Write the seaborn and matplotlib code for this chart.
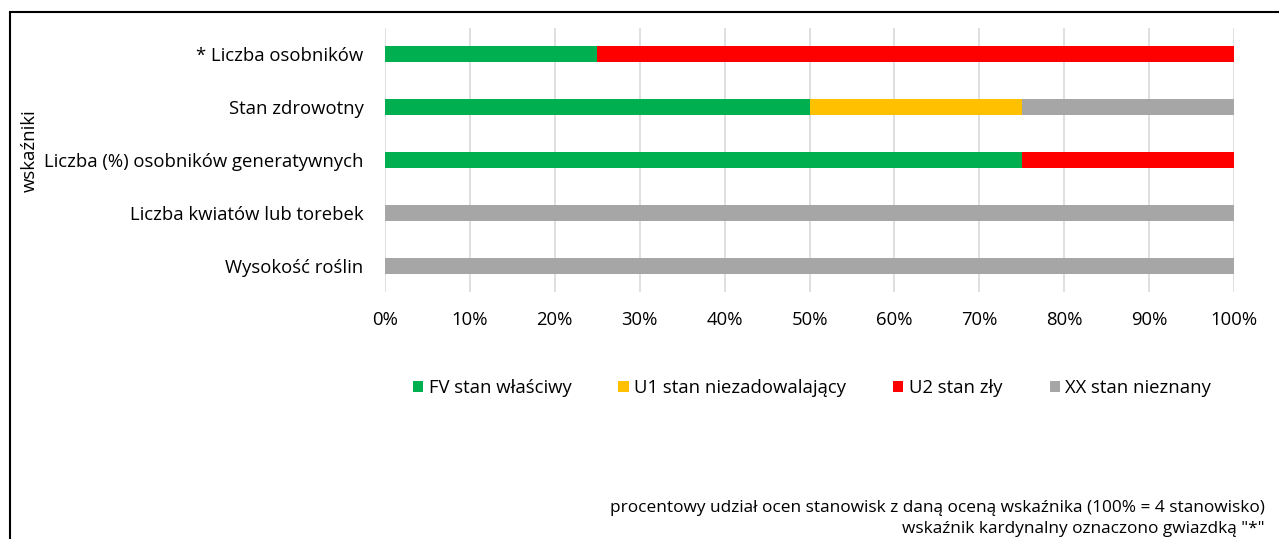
import matplotlib
matplotlib.use("Agg")
import matplotlib.pyplot as plt
import seaborn as sns
import pandas as pd
import numpy as np
from matplotlib.patches import Rectangle
from matplotlib.ticker import FuncFormatter

categories = ["* Liczba osobników", "Stan zdrowotny", "Liczba (%) osobników generatywnych",
              "Liczba kwiatów lub torebek", "Wysokość roślin"]
fv = [25, 50, 75, 0, 0]
u1 = [0, 25, 0, 0, 0]
u2 = [75, 0, 25, 0, 0]
xx = [0, 25, 0, 100, 100]
series_names = ["FV stan właściwy", "U1 stan niezadowalający", "U2 stan zły", "XX stan nieznany"]
colors = ["#00B050", "#FFC000", "#FF0000", "#A6A6A6"]
xticks = [0, 10, 20, 30, 40, 50, 60, 70, 80, 90, 100]
ylabel = "wskaźniki"
note1 = "procentowy udział ocen stanowisk z daną oceną wskaźnika (100% = 4 stanowisko)"
note2 = 'wskaźnik kardynalny oznaczono gwiazdką "*"'

sns.set_theme(style="white")
plt.rcParams['font.family'] = ['Open Sans', 'DejaVu Sans']
plt.rcParams['text.color'] = '#000000'
plt.rcParams['axes.labelcolor'] = '#000000'
FS = 13.3

fig = plt.figure(figsize=(12.79, 5.39), dpi=100)
ax = fig.add_axes([385/1279, 1-292/539, (1234-385)/1279, (292-28)/539])

df = pd.DataFrame({"cat": categories, "FV": fv, "U1": u1, "U2": u2, "XX": xx})
cum = df[["FV", "U1", "U2", "XX"]].cumsum(axis=1)

for key, name, col in reversed(list(zip(["FV", "U1", "U2", "XX"], series_names, colors))):
    sns.barplot(x=cum[key], y=df["cat"], color=col, orient="h", width=0.3,
                ax=ax, label=name, saturation=1, linewidth=0, zorder=3)

ax.set_xlim(0, 100)
ax.set_xticks(xticks)
ax.xaxis.set_major_formatter(FuncFormatter(lambda v, p: f"{int(v)}%"))
ax.grid(axis="x", color="#D9D9D9", linewidth=1.2, zorder=0)
ax.grid(axis="y", visible=False)
for s in ax.spines.values():
    s.set_visible(False)
ax.tick_params(axis="both", length=0, labelsize=FS, colors="#000000")
ax.tick_params(axis="x", pad=14)
ax.tick_params(axis="y", pad=15.5)
ax.set_xlabel("")
ax.set_ylabel(ylabel, fontsize=FS)
ax.yaxis.set_label_coords(-0.4075, 0.535, transform=ax.transAxes)

handles, labels = ax.get_legend_handles_labels()
order = [labels.index(n) for n in series_names]
ax.legend([handles[i] for i in order], [labels[i] for i in order],
          loc="center", bbox_to_anchor=(812/1279, 1-388/539), bbox_transform=fig.transFigure,
          ncol=4, frameon=False, fontsize=FS, handlelength=0.55, handleheight=0.55,
          handletextpad=0.3, columnspacing=2.55)

fig.text(1265/1279, 1-508/539, note1, ha="right", va="center", fontsize=12.4)
fig.text(1265/1279, 1-529/539, note2, ha="right", va="center", fontsize=12.4)

fig.patches.append(Rectangle((10/1279, -0.1), 1.2, 1-12/539+0.1, transform=fig.transFigure,
                             fill=False, edgecolor="black", linewidth=1.5))

fig.savefig("out.png", dpi=100)
